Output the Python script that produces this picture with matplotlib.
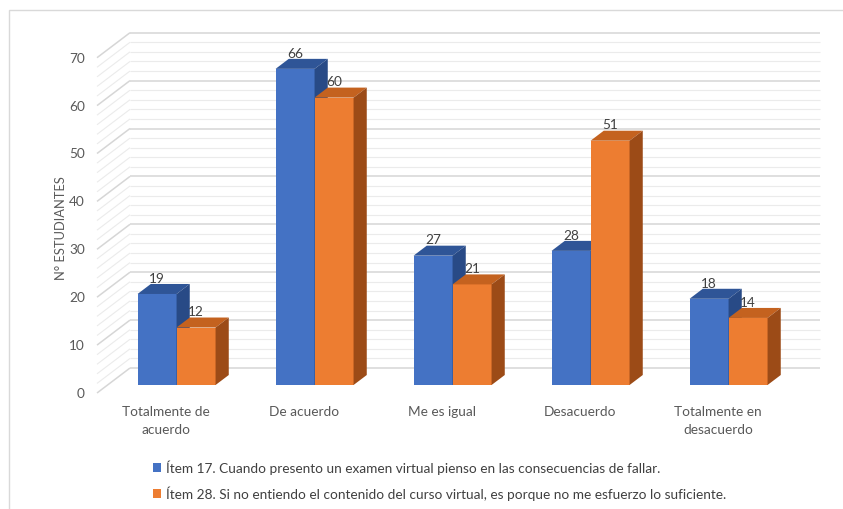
import numpy as np
import matplotlib.pyplot as plt
from matplotlib.patches import Polygon, Rectangle, Patch

plt.rcParams['font.family'] = ['Lato', 'DejaVu Sans']

## data ##
categorias = ['Totalmente de\nacuerdo', 'De acuerdo', 'Me es igual', 'Desacuerdo', 'Totalmente en\ndesacuerdo']
item17 = [19, 66, 27, 28, 18]
item28 = [12, 60, 21, 51, 14]
serie17 = 'Ítem 17. Cuando presento un examen virtual pienso en las consecuencias de fallar.'
serie28 = 'Ítem 28. Si no entiendo el contenido del curso virtual, es porque no me esfuerzo lo suficiente.'
yticks = list(range(0, 71, 10))
ylabel = 'N° ESTUDIANTES'

## 3d look settings (depth of the box and of the bars)
DX = 33 / 138      # full depth, x shift in category units
DY = 25 / 4.79     # full depth, y shift in value units
BAR_W = 39 / 138
D_FRONT, D_BACK = 0.32, 0.72

colores = {
    'azul': ('#4472C4', '#2F5597', '#284A86'),
    'naranja': ('#ED7D31', '#C4621F', '#9C4B17'),
}


def pt(x, v, d):
    return (x + d * DX, v + d * DY)


fig = plt.figure(figsize=(8.43, 5.10), dpi=100)
ax = fig.add_axes([0, 0, 1, 1])
ax.set_xlim(-166 / 138, (843 - 166) / 138)
ax.set_ylim(-(510 - 394) / 4.79, 394 / 4.79)
ax.axis('off')

# chart border
fig.patches.append(Rectangle((9 / 843, -0.01), 1.0, 1 - 11 / 510 + 0.01, transform=fig.transFigure,
                             fill=False, edgecolor='#d9d9d9', lw=1))

n = len(categorias)
x = np.arange(n)

# back wall and side wall gridlines
for v in range(0, 71, 2):
    major = v % 10 == 0
    col = '#d6d6d6' if major else '#ebebeb'
    lw = 1.1 if major else 0.8
    a, b = pt(-0.5, v, 1), pt(n - 0.5, v, 1)
    ax.plot([a[0], b[0]], [a[1], b[1]], color=col, lw=lw, zorder=1, solid_capstyle='butt')
    c = pt(-0.5, v, 0)
    ax.plot([c[0], a[0]], [c[1], a[1]], color=col, lw=lw, zorder=1, solid_capstyle='butt')

# y axis tick labels
for v in yticks:
    ax.text((85 - 166) / 138, v, str(v), ha='right', va='center', fontsize=9.8, color='#595959')
ax.text((61 - 166) / 138, (394 - 228) / 4.79, ylabel, rotation=90, ha='center', va='center',
        fontsize=9.3, color='#595959')


def barras_3d(xs, vals, key):
    front, top, side = colores[key]
    x0, y0 = pt(0, 0, D_FRONT)
    ax.bar(xs + x0, vals, BAR_W, bottom=y0, color=front, edgecolor='none', zorder=3)
    for xc, v in zip(xs, vals):
        l, r = xc - BAR_W / 2, xc + BAR_W / 2
        t = [pt(l, v, D_FRONT), pt(r, v, D_FRONT), pt(r, v, D_BACK), pt(l, v, D_BACK)]
        s = [pt(r, 0, D_FRONT), pt(r, v, D_FRONT), pt(r, v, D_BACK), pt(r, 0, D_BACK)]
        ax.add_patch(Polygon(t, closed=True, facecolor=top, edgecolor='none', zorder=3))
        ax.add_patch(Polygon(s, closed=True, facecolor=side, edgecolor='none', zorder=3))
        lx = pt(xc, v, D_FRONT)[0]
        ly = pt(xc, v, D_BACK)[1]
        ax.text(lx, ly + 0.05, str(v), ha='center', va='bottom', fontsize=9.8, color='#404040', zorder=4)


barras_3d(x - BAR_W / 2, item17, 'azul')
barras_3d(x + BAR_W / 2, item28, 'naranja')

# category labels
for i, cat in enumerate(categorias):
    ax.text(i, -(406 - 394) / 4.79, cat, ha='center', va='top', fontsize=9.8, color='#595959',
            linespacing=1.6)

# legend
handles = [Patch(facecolor=colores['azul'][0]), Patch(facecolor=colores['naranja'][0])]
fig.legend(handles, [serie17, serie28], loc='upper left', bbox_to_anchor=(146 / 843, 1 - 454 / 510),
           frameon=False, fontsize=9.8, handlelength=0.6, handleheight=0.6, handletextpad=0.35,
           labelspacing=0.85, borderpad=0, labelcolor='#404040')

fig.savefig('out.png', dpi=100)
